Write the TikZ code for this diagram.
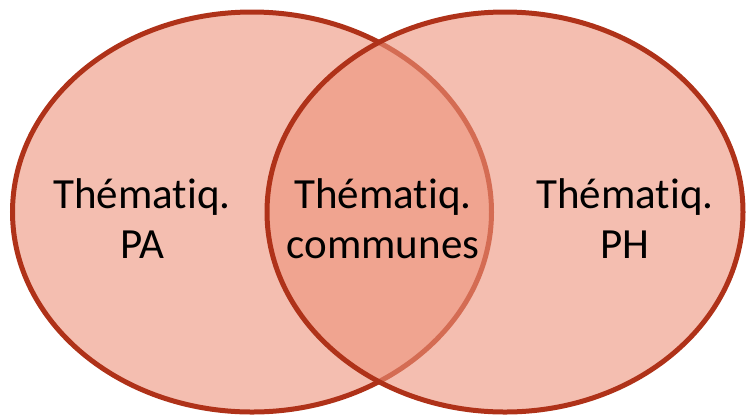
\documentclass[tikz,border=0pt]{standalone}
\usepackage{fontspec}
\setmainfont[Ligatures={NoCommon},RawFeature={-liga}]{Carlito}
\definecolor{ringred}{RGB}{175,50,25}
\definecolor{vennfill}{RGB}{237,147,123}
\begin{document}
\begin{tikzpicture}[x=1bp,y=-1bp,
  venn/.style={fill=vennfill,fill opacity=0.6,draw=ringred,draw opacity=1,line width=5bp},
  label/.style={align=center,font=\fontsize{43bp}{50bp}\selectfont,text=black,inner sep=0pt}]
\useasboundingbox (0,0) rectangle (748,419);
\path[venn] (252,212) ellipse [x radius=239.5, y radius=200];
\path[venn] (505,212) ellipse [x radius=238, y radius=200];
\node[label] (pa) at (142,219) {Thématiq.\\PA};
\node[label] (com) at (383,219) {Thématiq.\\communes};
\node[label] (ph) at (625,219) {Thématiq.\\PH};
\end{tikzpicture}
\end{document}
